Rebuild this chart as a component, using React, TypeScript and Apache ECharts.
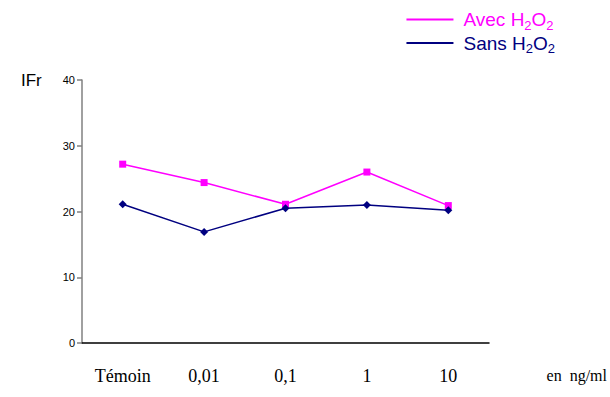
import React, { useEffect, useRef } from "react";
import * as echarts from "echarts";

const categories = ["Témoin", "0,01", "0,1", "1", "10"];
const avecValues = [27.2, 24.4, 21.1, 26.0, 20.9];
const sansValues = [21.1, 16.9, 20.5, 21.0, 20.2];
const yTicks = [0, 10, 20, 30, 40];

const MAGENTA = "#ff00ff";
const NAVY = "#000080";
const SANS = "Liberation Sans, Arial, sans-serif";
const SERIF = "Liberation Serif, Times New Roman, serif";

export default function App() {
  const ref = useRef<HTMLDivElement>(null);
  useEffect(() => {
    const chart = echarts.init(ref.current!, null, { renderer: "svg" });
    const richFor = (color: string) => ({
      p: { color, fontSize: 19, fontFamily: SANS, padding: [0, 0, 0, 5] },
      a: { color, fontSize: 19, fontFamily: SANS },
      s: { color, fontSize: 13, fontFamily: SANS, padding: [11, 0, 0, 0] },
    });
    chart.setOption({
      animation: false,
      backgroundColor: "#ffffff",
      grid: { left: 82, right: 121, top: 80, bottom: 54, containLabel: false },
      legend: {
        orient: "vertical",
        right: 50,
        top: 5,
        itemGap: 2,
        itemWidth: 47,
        itemHeight: 2,
        icon: "rect",
        textStyle: { fontSize: 19, fontFamily: SANS },
        data: [
          { name: "Avec", textStyle: { color: MAGENTA, fontSize: 19, rich: richFor(MAGENTA) } },
          { name: "Sans", textStyle: { color: NAVY, fontSize: 19, rich: richFor(NAVY) } },
        ],
        formatter: (name: string) => `{p|${name}} {a|H}{s|2}{a|O}{s|2}`,
      },
      xAxis: {
        type: "category",
        data: categories,
        boundaryGap: true,
        axisLine: { lineStyle: { color: "#000", width: 1.5 } },
        axisTick: { alignWithLabel: true, length: 7, lineStyle: { color: "#000", width: 1.5 } },
        axisLabel: {
          margin: 24,
          color: "#000",
          fontSize: 18,
          fontFamily: SERIF,
        },
        splitLine: { show: false },
      },
      yAxis: {
        type: "value",
        min: 0,
        max: 40,
        interval: 10,
        axisLine: { show: true, lineStyle: { color: "#808080", width: 1.5 } },
        axisTick: { show: true, length: 5, lineStyle: { color: "#808080", width: 1.5 } },
        axisLabel: {
          margin: 7,
          color: "#000",
          fontSize: 11,
          fontFamily: SANS,
          formatter: (v: number) => (yTicks.includes(v) ? String(v) : ""),
        },
        splitLine: { show: false },
      },
      graphic: [
        {
          type: "text",
          left: 21,
          top: 72,
          style: { text: "IFr", fontSize: 17, fontFamily: SANS, fill: "#000" },
        },
        {
          type: "text",
          right: 3,
          top: 367,
          style: { text: "en  ng/ml", fontSize: 16, fontFamily: SERIF, fill: "#000" },
        },
      ],
      series: [
        {
          name: "Avec",
          type: "line",
          data: avecValues,
          symbol: "rect",
          symbolSize: 7,
          lineStyle: { color: MAGENTA, width: 1.5 },
          itemStyle: { color: MAGENTA },
        },
        {
          name: "Sans",
          type: "line",
          data: sansValues,
          symbol: "diamond",
          symbolSize: 8,
          lineStyle: { color: NAVY, width: 1.5 },
          itemStyle: { color: NAVY },
        },
      ],
    });
    return () => chart.dispose();
  }, []);
  return <div ref={ref} style={{ width: 610, height: 397, position: "absolute", left: 0, top: 0 }} />;
}
